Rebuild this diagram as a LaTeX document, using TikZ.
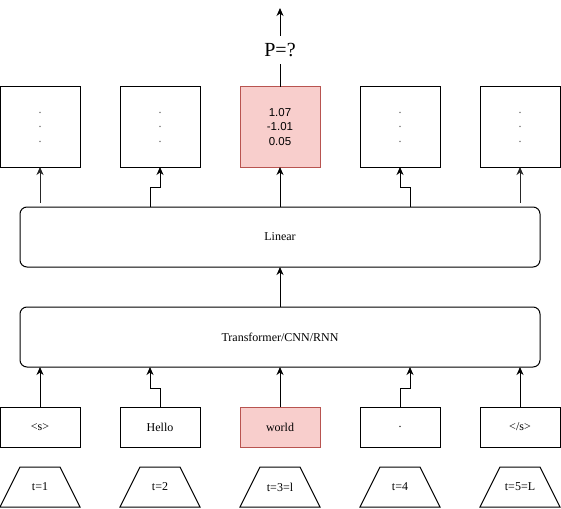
\documentclass[tikz,border=0pt]{standalone}
\usepackage{fontspec}
\setmainfont{Liberation Serif}
\newfontfamily\numfont{Liberation Sans}
\usetikzlibrary{arrows.meta,calc}
\definecolor{pinkfill}{HTML}{F8CECC}
\definecolor{pinkdraw}{HTML}{B85450}
\definecolor{dotgray}{HTML}{555555}
\tikzset{
  box/.style={draw=black,line width=1pt,minimum width=80pt,minimum height=80pt,inner sep=0pt,outer sep=0pt,font=\fontsize{12}{14.5}\selectfont,align=center},
  tok/.style={draw=black,line width=1pt,minimum width=80pt,minimum height=40pt,inner sep=0pt,outer sep=0pt,font=\fontsize{12}{14}\selectfont},
  hl/.style={fill=pinkfill,draw=pinkdraw},
  layer/.style={draw=black,line width=1pt,rounded corners=7pt,minimum width=520pt,minimum height=60pt,inner sep=0pt,outer sep=0pt,font=\fontsize{12}{14}\selectfont},
  traptext/.style={inner sep=0pt,font=\fontsize{12}{14}\selectfont},
  trapline/.style={draw=black,line width=1pt,line join=miter},
  arr/.style={line width=1pt,-{Stealth[length=8pt,width=7pt,inset=2.5pt]}},
}
\newcommand{\trapshape}[1]{\draw[trapline] ($(#1.center)+(-40,20)$) -- ++(20,-40) -- ++(40,0) -- ++(20,40) -- cycle;}
\begin{document}
\begin{tikzpicture}[x=1pt,y=-1pt]
\useasboundingbox (0,0) rectangle (561,508);
% top output boxes
\node[box] (b1) at (40,127) {\color{dotgray}.\\\color{dotgray}.\\\color{dotgray}.};
\node[box] (b2) at (160,127) {\color{dotgray}.\\\color{dotgray}.\\\color{dotgray}.};
\node[box,hl,font=\numfont\fontsize{11.5}{14.5}\selectfont] (b3) at (280,127) {1.07\\-1.01\\0.05};
\node[box] (b4) at (400,127) {\color{dotgray}.\\\color{dotgray}.\\\color{dotgray}.};
\node[box] (b5) at (520,127) {\color{dotgray}.\\\color{dotgray}.\\\color{dotgray}.};
% layers
\node[layer] (lin) at (280,237) {Linear};
\node[layer] (tr) at (280,337) {Transformer/CNN/RNN};
% tokens
\node[tok] (w1) at (40,427) {<s>};
\node[tok] (w2) at (160,427) {Hello};
\node[tok,hl] (w3) at (280,427) {world};
\node[tok] (w4) at (400,427) {.};
\node[tok] (w5) at (520,427) {</s>};
% time steps
\node[traptext] (t1) at (40,487) {t=1};
\node[traptext] (t2) at (160,487) {t=2};
\node[traptext] (t3) at (280,487) {t=3=l};
\node[traptext] (t4) at (400,487) {t=4};
\node[traptext] (t5) at (520,487) {t=5=L};
\trapshape{t1}\trapshape{t2}\trapshape{t3}\trapshape{t4}\trapshape{t5}
% P label
\node[inner sep=0pt,minimum height=28pt,font=\fontsize{20}{22}\selectfont] (p) at (280,50) {P=?};
\coordinate (ptop) at (280,8);
\coordinate (x150) at (150,0);
\coordinate (x410) at (410,0);
% tokens -> transformer
\draw[arr] (w1.north) -- (tr.south -| w1.north);
\draw[arr] (w2.north) -- ++(0,-19) -| (tr.south -| x150);
\draw[arr] (w3.north) -- (tr.south);
\draw[arr] (w4.north) -- ++(0,-19) -| (tr.south -| x410);
\draw[arr] (w5.north) -- (tr.south -| w5.north);
% transformer -> linear
\draw[arr] (tr.north) -- (lin.south);
% linear -> boxes
\draw[arr,draw=black!85] ($(lin.north -| b1.south)+(0,-4)$) -- (b1.south);
\draw[arr] (lin.north -| x150) -- ++(0,-20) -| (b2.south);
\draw[arr] (lin.north) -- (b3.south);
\draw[arr] (lin.north -| x410) -- ++(0,-20) -| (b4.south);
\draw[arr,draw=black!85] ($(lin.north -| b5.south)+(0,-4)$) -- (b5.south);
% output
\draw[line width=1pt] (b3.north) -- (p.south);
\draw[arr] (p.north) -- (ptop);
\end{tikzpicture}
\end{document}
